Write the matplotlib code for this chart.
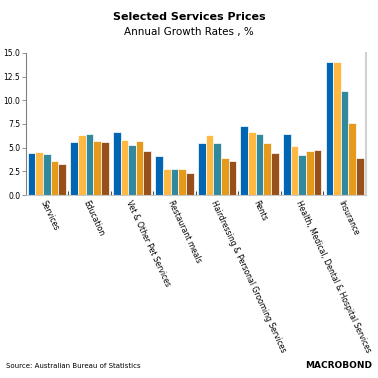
import matplotlib.pyplot as plt
import numpy as np

categories = ['Services', 'Education', 'Vet & Other Pet Services', 'Restaurant meals',
              'Hairdressing & Personal Grooming Services', 'Rents',
              'Health, Medical, Dental & Hospital Services', 'Insurance']

s1 = [4.4, 5.6, 6.7, 4.1, 5.5, 7.3, 6.4, 14.0]
s2 = [4.5, 6.3, 5.8, 2.7, 6.3, 6.7, 5.2, 14.0]
s3 = [4.3, 6.4, 5.3, 2.7, 5.5, 6.4, 4.2, 11.0]
s4 = [3.6, 5.7, 5.7, 2.7, 3.9, 5.5, 4.6, 7.6]
s5 = [3.3, 5.6, 4.6, 2.3, 3.6, 4.4, 4.8, 3.9]
series = [s1, s2, s3, s4, s5]
colors = ['#0066b3', '#ffb841', '#32889c', '#e59a1c', '#98501a']

fig = plt.figure(figsize=(3.78, 3.78), dpi=100)
ax = fig.add_axes([0.068, 0.484, 0.9, 0.376])

x = np.arange(len(categories))
w = 0.18
for i, (vals, c) in enumerate(zip(series, colors)):
    ax.bar(x + (i - 2) * w, vals, width=w, color=c, edgecolor='#ffffff', linewidth=0.5)

ax.set_xlim(-0.5, len(categories) - 0.5)
ax.set_ylim(0, 15)
ax.set_yticks(np.arange(0, 15.1, 2.5))
ax.set_yticklabels([f"{v:.1f}" for v in np.arange(0, 15.1, 2.5)], fontsize=5.5)
ax.tick_params(axis='y', length=3, width=0.6, color='#808080', pad=1)

ax.set_xticks(x)
ax.set_xticklabels(categories, rotation=-65, ha='left', va='top', rotation_mode='anchor', fontsize=5.5)
ax.tick_params(axis='x', length=0, pad=3)
ax.set_xticks(x[:-1] + 0.5, minor=True)
ax.tick_params(axis='x', which='minor', length=3, width=0.8, color='#505050', direction='in')

ax.spines['left'].set_color('#808080')
ax.spines['left'].set_linewidth(0.8)
ax.spines['bottom'].set_color('#c8c8c8')
ax.spines['right'].set_color('#d0d0d0')
ax.spines['right'].set_linewidth(1.5)
ax.spines['top'].set_visible(False)

fig.text(0.5, 0.955, 'Selected Services Prices', ha='center', va='center', fontsize=8, fontweight='bold')
fig.text(0.5, 0.915, 'Annual Growth Rates , %', ha='center', va='center', fontsize=7.5)
fig.text(0.015, 0.033, 'Source: Australian Bureau of Statistics', ha='left', va='center', fontsize=5)
fig.text(0.985, 0.033, 'MACROBOND', ha='right', va='center', fontsize=6.5, fontweight='heavy')

fig.savefig('out.png', dpi=100)
